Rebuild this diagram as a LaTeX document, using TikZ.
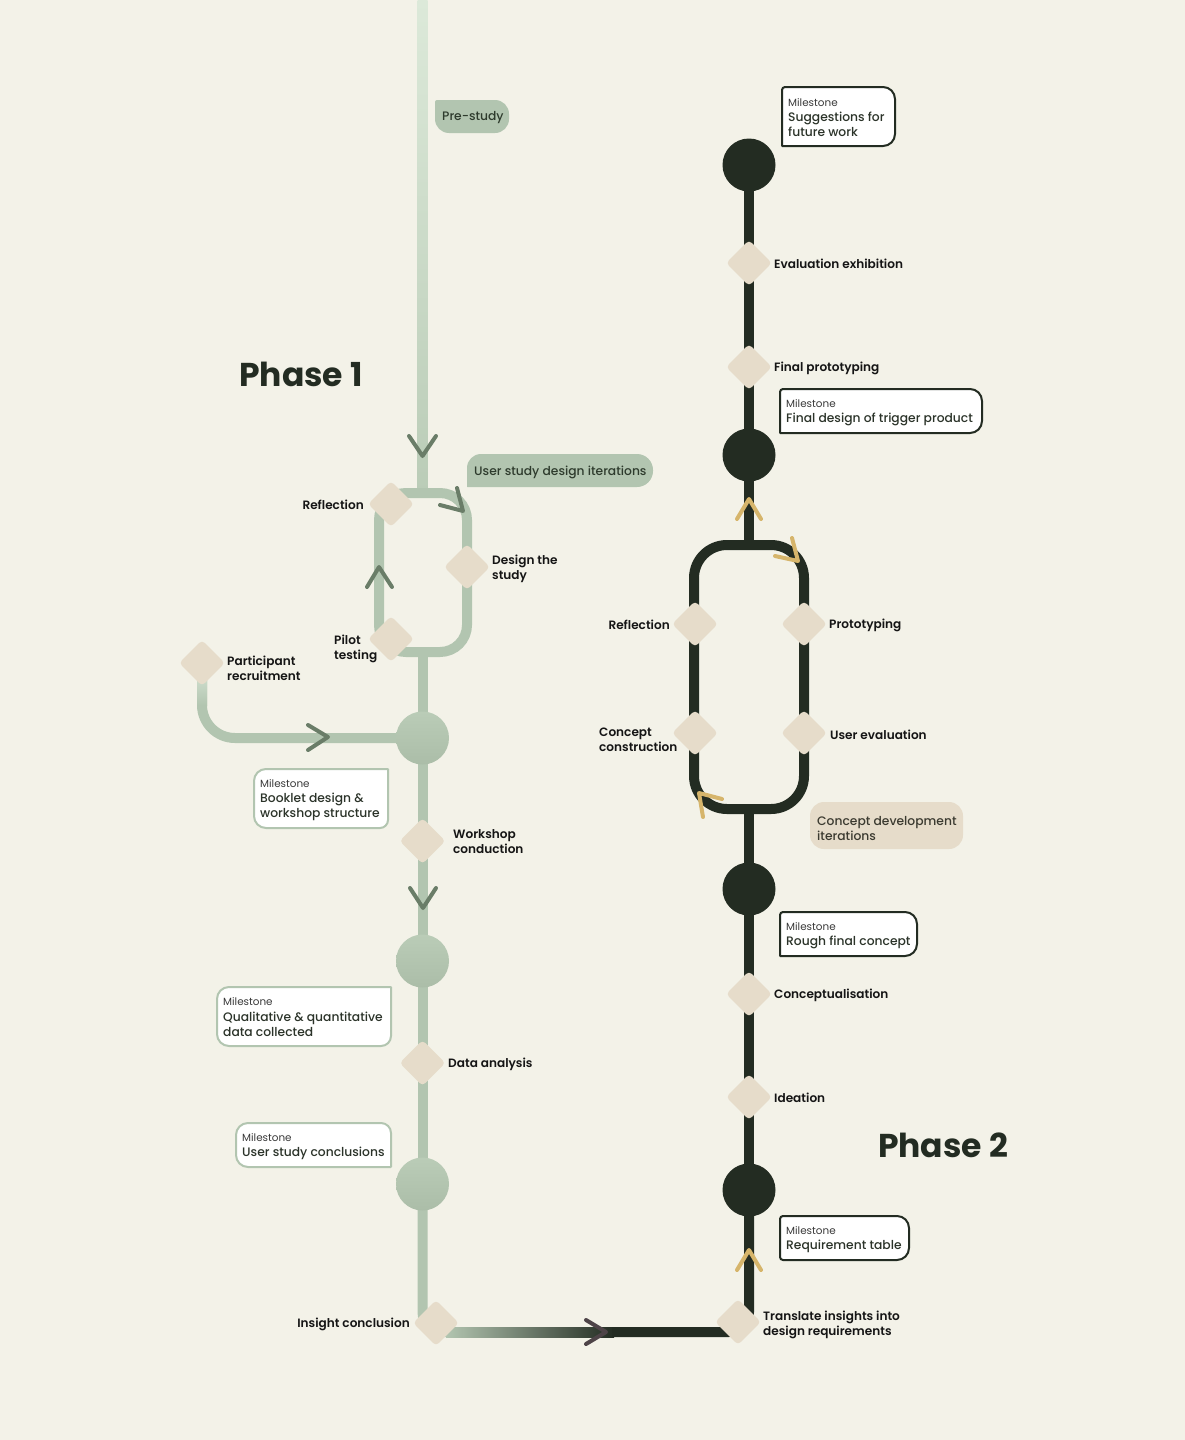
\documentclass[tikz,border=0pt]{standalone}
\usepackage{fontspec}
\setmainfont{Poppins}
\newfontfamily\freg{Poppins}
\newfontfamily\fmed{Poppins}[UprightFont=*-Medium]
\newfontfamily\fsemi{Poppins}[UprightFont=*-SemiBold]
\newfontfamily\fbold{Poppins}[UprightFont=*-Bold]
\usetikzlibrary{shapes.geometric}
\pgfdeclarelayer{bg}
\pgfdeclarelayer{lines}
\pgfsetlayers{bg,lines,main}
\definecolor{bgc}{HTML}{F3F2E8}
\definecolor{pone}{HTML}{B2C5B0}
\definecolor{ponelight}{HTML}{DCE9D9}
\definecolor{cirtop}{HTML}{BACCB7}
\definecolor{cirbot}{HTML}{ABBDA8}
\definecolor{dk}{HTML}{232C22}
\definecolor{dia}{HTML}{E6DCCA}
\definecolor{chev}{HTML}{6A7D68}
\definecolor{gold}{HTML}{D6B56B}
\definecolor{txt}{HTML}{151515}
\definecolor{mst}{HTML}{2B3329}
\definecolor{mssmall}{HTML}{3A3A3A}
\definecolor{chevdk}{HTML}{4E4448}
\definecolor{tagtxt}{HTML}{2E3B2D}
\definecolor{tagtxtb}{HTML}{3B3A30}
\newcommand\roundbox[9]{\path[#1] (#2+#6,#3) -- (#4-#7,#3) arc[start angle=90,end angle=0,radius=#7pt] -- (#4,#5-#8) arc[start angle=0,end angle=-90,radius=#8pt] -- (#2+#9,#5) arc[start angle=-90,end angle=-180,radius=#9pt] -- (#2,#3+#6) arc[start angle=180,end angle=90,radius=#6pt] -- cycle;}
\tikzset{
  p1/.style={draw=pone, line width=10pt},
  p2/.style={draw=dk, line width=10pt},
  dmd/.style={diamond, fill=dia, minimum width=46pt, minimum height=46pt, inner sep=0pt, rounded corners=4pt},
  cone/.style={circle, top color=cirtop, bottom color=cirbot, draw=none, minimum size=53pt, inner sep=0pt},
  ctwo/.style={circle, fill=dk, minimum size=53pt, inner sep=0pt},
  lab/.style={font=\fsemi\fontsize{12.1}{15}\selectfont, text=txt, align=left, inner sep=0pt, yshift=-1pt},
  mslab/.style={font=\freg\fontsize{10.4}{11}\selectfont, text=mssmall, inner sep=0pt, anchor=west, yshift=-0.5pt},
  mstitle/.style={font=\fmed\fontsize{12.3}{15}\selectfont, text=mst, align=left, inner sep=0pt, anchor=west, yshift=-1pt},
  tagtext/.style={font=\fmed\fontsize{12.3}{15}\selectfont, text=tagtxt, align=left, inner sep=0pt, anchor=west, yshift=-1.5pt},
  msdark/.style={fill=white, draw=dk, line width=2pt},
  mslight/.style={fill=white, draw=pone, line width=2pt},
  taggreen/.style={fill=pone},
  tagbeige/.style={fill=dia},
  chv/.style={line width=4pt, line cap=round, line join=round},
  phase/.style={font=\fbold\fontsize{33}{38}\selectfont, text=dk, inner sep=0pt}
}
\begin{document}
\begin{tikzpicture}[x=1pt,y=-1pt]
\useasboundingbox (0,0) rectangle (1185,1440);
\begin{pgfonlayer}{bg}
\fill[bgc] (0,0) rectangle (1185,1440);
\end{pgfonlayer}

% ---------- Phase titles ----------
\node[phase] (ph1) at (301,374) {Phase 1};
\node[phase] (ph2) at (943,1145) {Phase 2};

% ---------- Tags ----------
\roundbox{taggreen}{435}{100}{509}{133}{2}{14}{14}{14}
\node[tagtext] (tpre) at (442,116.5) {Pre-study};
\roundbox{taggreen}{467}{454}{653}{487}{14}{16}{16}{0.5}
\node[tagtext] (tusd) at (474,470.5) {User study design iterations};
\roundbox{tagbeige}{810}{802}{963}{849}{14}{14}{14}{14}
\node[tagtext, text=tagtxtb] (tcd) at (817,826.5) {Concept development\\iterations};

% ---------- Phase 1 nodes ----------
\node[dmd] (dref1) at (391,504) {};
\node[lab, anchor=east] (lref1) at (364,504) {Reflection};
\node[dmd] (ddes) at (467,567) {};
\node[lab, anchor=west] (ldes) at (492,567.5) {Design the\\study};
\node[dmd] (dpil) at (391,639) {};
\node[lab, anchor=west] (lpil) at (334,647.5) {Pilot\\testing};
\node[dmd] (dpar) at (202,663) {};
\node[lab, anchor=west] (lpar) at (227,667.5) {Participant\\recruitment};
\node[cone] (c1) at (422.5,738) {};
\node[dmd] (dws) at (422.5,841) {};
\node[lab, anchor=west] (lws) at (453,841) {Workshop\\conduction};
\node[cone] (c2) at (422.5,961) {};
\node[dmd] (dda) at (422.5,1063) {};
\node[lab, anchor=west] (lda) at (448,1063) {Data analysis};
\node[cone] (c3) at (422.5,1184) {};
\node[dmd] (dins) at (436,1323) {};
\node[lab, anchor=east] (lins) at (410,1323) {Insight conclusion};

% milestones phase 1
\roundbox{mslight}{254}{769}{388}{828}{12}{0.5}{8}{12}
\node[mslab] (mb1) at (260,783.5) {Milestone};
\node[mstitle] (mb2) at (260,805.5) {Booklet design \&\\workshop structure};
\roundbox{mslight}{217}{987}{391}{1046}{12}{0.5}{10}{12}
\node[mslab] (mq1) at (223,1001.5) {Milestone};
\node[mstitle] (mq2) at (223,1023.5) {Qualitative \& quantitative\\data collected};
\roundbox{mslight}{236}{1123}{391}{1167}{12}{10}{0.5}{12}
\node[mslab] (mu1) at (242,1137.5) {Milestone};
\node[mstitle] (mu2) at (242,1152) {User study conclusions};

% ---------- Phase 2 nodes ----------
\node[dmd] (dtr) at (738,1322) {};
\node[lab, anchor=west] (ltr) at (763,1323.5) {Translate insights into\\design requirements};
\node[ctwo] (c4) at (749,1190) {};
\node[dmd] (dide) at (749,1097) {};
\node[lab, anchor=west] (lide) at (774,1097) {Ideation};
\node[dmd] (dcon) at (749,994) {};
\node[lab, anchor=west] (lcon) at (774,994) {Conceptualisation};
\node[ctwo] (c5) at (749,889) {};
\node[dmd] (dcc) at (695,733) {};
\node[lab, anchor=west] (lcc) at (599,738.5) {Concept\\construction};
\node[dmd] (due) at (804,733) {};
\node[lab, anchor=west] (lue) at (830,734) {User evaluation};
\node[dmd] (dref2) at (695,624) {};
\node[lab, anchor=east] (lref2) at (670,624) {Reflection};
\node[dmd] (dpro) at (804,624) {};
\node[lab, anchor=west] (lpro) at (829,624) {Prototyping};
\node[ctwo] (c6) at (749,455) {};
\node[dmd] (dfp) at (749,367) {};
\node[lab, anchor=west] (lfp) at (774,367) {Final prototyping};
\node[dmd] (dee) at (749,263) {};
\node[lab, anchor=west] (lee) at (774,263) {Evaluation exhibition};
\node[ctwo] (c7) at (749,165) {};

% milestones phase 2
\roundbox{msdark}{782}{87}{895}{146}{3}{12}{12}{0.5}
\node[mslab] (ms1) at (788,102) {Milestone};
\node[mstitle] (ms2) at (788,123.5) {Suggestions for\\future work};
\roundbox{msdark}{780}{389}{982}{433}{3}{12}{12}{0.5}
\node[mslab] (mf1) at (786,403.5) {Milestone};
\node[mstitle] (mf2) at (786,418) {Final design of trigger product};
\roundbox{msdark}{780}{912}{917}{956}{3}{12}{12}{0.5}
\node[mslab] (mr1) at (786,926.5) {Milestone};
\node[mstitle] (mr2) at (786,941) {Rough final concept};
\roundbox{msdark}{780}{1216}{909}{1260}{3}{12}{12}{3}
\node[mslab] (mt1) at (786,1230.5) {Milestone};
\node[mstitle] (mt2) at (786,1245) {Requirement table};

% ---------- connectors ----------
\coordinate (top) at (422.5,0);
\coordinate (l1top) at (422.5,493);
\coordinate (l1bot) at (422.5,652);
\coordinate (l2top) at (749,545);
\coordinate (l2bot) at (749,809);
\begin{pgfonlayer}{lines}
\shade[top color=ponelight, bottom color=cirtop] (417.5,0) rectangle (427.5,493);
\draw[p1, rounded corners=27pt] (379,493) rectangle (467,652);
\draw[p1] (l1bot) -- (c1.center);
\draw[p1, rounded corners=33pt] (dpar.center) |- (c1.center);
\shade[top color=ponelight, bottom color=pone] (197,663) rectangle (207,705);
\draw[p1] (c1.center) -- (dws.center) -- (c2.center) -- (dda.center) -- (c3.center);
\draw[p1, rounded corners=20pt] (c3.center) |- (448,1332);
\shade[left color=pone, right color=dk] (446,1327) rectangle (614,1337);
\draw[p2, rounded corners=20pt] (612,1332) -| (c4.center);
\draw[p2] (c4.center) -- (dide.center) -- (dcon.center) -- (c5.center) -- (l2bot);
\draw[p2, rounded corners=33pt] (694,545) rectangle (804,809);
\draw[p2] (l2top) -- (c6.center) -- (dfp.center) -- (dee.center) -- (c7.center);
\end{pgfonlayer}

% ---------- chevrons ----------
\draw[chv, chev] (409,436) -- (422.5,456) -- (436,436);
\draw[chv, chev] (457,488) -- (463,511) -- (440,505);
\draw[chv, chev] (367,587) -- (379,567) -- (392,587);
\draw[chv, chev] (308,725) -- (328,737) -- (308,750);
\draw[chv, chev] (410,888) -- (423,908) -- (436,888);
\draw[chv, chevdk] (586,1320) -- (606,1332) -- (586,1344);
\draw[chv, gold] (737,1270) -- (749,1250) -- (761,1270);
\draw[chv, gold] (737,519) -- (749,499) -- (761,519);
\draw[chv, gold] (792,538) -- (798,561) -- (775,556);
\draw[chv, gold] (722,799) -- (699,793) -- (703,817);
\end{tikzpicture}
\end{document}
